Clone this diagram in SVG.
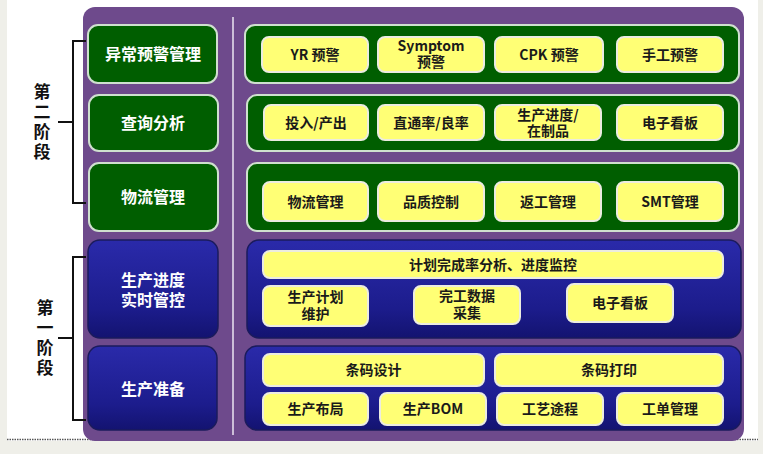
<svg xmlns="http://www.w3.org/2000/svg" width="763" height="454" viewBox="0 0 763 454">
<style>
.t{font-family:"Noto Sans CJK SC","Noto Sans",sans-serif;font-weight:bold;text-anchor:middle}
.lw{fill:#ffffff;font-size:16px}
.yk{fill:#1a1a1a;font-size:14px}
.st{fill:#111111;font-size:17px;writing-mode:vertical-rl;letter-spacing:3px}
.gl{fill:#005e00;stroke:#cfe0cf;stroke-width:2}
.gr{fill:#005e00;stroke:#cfe0cf;stroke-width:2}
.bl{fill:url(#bg);stroke:#1b1b5c;stroke-width:1.5}
.y{fill:#ffff75;stroke:#ecece0;stroke-width:2}
.br{fill:none;stroke:#111;stroke-width:2}
</style>
<defs>
<linearGradient id="bg" x1="0" y1="0" x2="0" y2="1">
<stop offset="0" stop-color="#2a2aaa"/>
<stop offset="0.7" stop-color="#1c1c8c"/>
<stop offset="1" stop-color="#131370"/>
</linearGradient>
</defs>
<rect x="0" y="0" width="763" height="454" fill="#efefe9"/>
<rect x="7" y="0" width="751" height="441" fill="#ffffff"/>
<line x1="7" y1="439.5" x2="758" y2="439.5" stroke="#555" stroke-width="1.5" stroke-dasharray="1.5,1"/>
<rect id="panel" x="83" y="7" width="661" height="434" rx="12" fill="#6e4a8c"/>
<line x1="233" y1="17" x2="233" y2="435" stroke="#ece6f2" stroke-width="1.5"/>

<g id="stage2">
<path class="br" d="M86,41 H73 V203 H86 M73,122 H58"/>
<text class="t st" x="42" y="123">第二阶段</text>
</g>
<g id="stage1">
<path class="br" d="M86,257 H73 V420 H86 M73,338 H58"/>
<text class="t st" x="45" y="339">第一阶段</text>
</g>

<g id="n-yichang"><rect class="gl" x="88" y="25" width="129" height="58" rx="10"/><text class="t lw" x="153" y="60">异常预警管理</text></g>
<g id="n-chaxun"><rect class="gl" x="89" y="95" width="129" height="56" rx="10"/><text class="t lw" x="153" y="129">查询分析</text></g>
<g id="n-wuliu"><rect class="gl" x="89" y="163" width="129" height="68" rx="10"/><text class="t lw" x="153" y="203">物流管理</text></g>
<g id="n-jindu"><rect class="bl" x="88" y="240" width="130" height="98" rx="12"/><text class="t lw"><tspan x="153" y="286">生产进度</tspan><tspan x="153" y="306">实时管控</tspan></text></g>
<g id="n-zhunbei"><rect class="bl" x="88" y="346" width="129" height="84" rx="12"/><text class="t lw" x="153" y="395">生产准备</text></g>

<g id="row1">
<rect class="gr" x="245" y="25" width="494" height="58" rx="10"/>
<g id="n-yr"><rect class="y" x="262" y="37" width="106" height="35" rx="7"/><text class="t yk" x="315" y="59.5">YR 预警</text></g>
<g id="n-symptom"><rect class="y" x="378" y="37" width="106" height="35" rx="7"/><text class="t yk"><tspan x="431" y="51">Symptom</tspan><tspan x="431" y="67">预警</tspan></text></g>
<g id="n-cpk"><rect class="y" x="495" y="37" width="108" height="35" rx="7"/><text class="t yk" x="549" y="59.5">CPK 预警</text></g>
<g id="n-shougong"><rect class="y" x="617" y="37" width="106" height="35" rx="7"/><text class="t yk" x="670" y="59.5">手工预警</text></g>
</g>

<g id="row2">
<rect class="gr" x="247" y="95" width="492" height="56" rx="10"/>
<g id="n-touru"><rect class="y" x="264" y="105" width="104" height="35" rx="7"/><text class="t yk" x="316" y="127.5">投入/产出</text></g>
<g id="n-zhitong"><rect class="y" x="378" y="105" width="106" height="35" rx="7"/><text class="t yk" x="431" y="127.5">直通率/良率</text></g>
<g id="n-zaizhi"><rect class="y" x="495" y="105" width="106" height="35" rx="7"/><text class="t yk"><tspan x="548" y="120">生产进度/</tspan><tspan x="548" y="136">在制品</tspan></text></g>
<g id="n-kanban1"><rect class="y" x="617" y="105" width="106" height="35" rx="7"/><text class="t yk" x="670" y="127.5">电子看板</text></g>
</g>

<g id="row3">
<rect class="gr" x="247" y="163" width="492" height="68" rx="10"/>
<g id="n-wuliu2"><rect class="y" x="263" y="182" width="105" height="39" rx="7"/><text class="t yk" x="315.5" y="206.5">物流管理</text></g>
<g id="n-pinzhi"><rect class="y" x="378" y="182" width="106" height="39" rx="7"/><text class="t yk" x="431" y="206.5">品质控制</text></g>
<g id="n-fangong"><rect class="y" x="495" y="182" width="106" height="39" rx="7"/><text class="t yk" x="548" y="206.5">返工管理</text></g>
<g id="n-smt"><rect class="y" x="617" y="182" width="106" height="39" rx="7"/><text class="t yk" x="670" y="206.5">SMT管理</text></g>
</g>

<g id="row4">
<rect class="bl" x="247" y="240" width="494" height="98" rx="12"/>
<g id="n-jihua"><rect class="y" x="263" y="251" width="460" height="27" rx="7"/><text class="t yk" x="493" y="269.5">计划完成率分析、进度监控</text></g>
<g id="n-weihu"><rect class="y" x="263" y="286" width="105" height="40" rx="7"/><text class="t yk"><tspan x="315.5" y="302">生产计划</tspan><tspan x="315.5" y="319">维护</tspan></text></g>
<g id="n-wangong"><rect class="y" x="414" y="286" width="106" height="38" rx="7"/><text class="t yk"><tspan x="467" y="301">完工数据</tspan><tspan x="467" y="318">采集</tspan></text></g>
<g id="n-kanban2"><rect class="y" x="567" y="284" width="106" height="38" rx="7"/><text class="t yk" x="620" y="308">电子看板</text></g>
</g>

<g id="row5">
<rect class="bl" x="245" y="346" width="496" height="84" rx="12"/>
<g id="n-tmsj"><rect class="y" x="263" y="354" width="221" height="32" rx="7"/><text class="t yk" x="373.5" y="375">条码设计</text></g>
<g id="n-tmdy"><rect class="y" x="495" y="354" width="228" height="32" rx="7"/><text class="t yk" x="609" y="375">条码打印</text></g>
<g id="n-buju"><rect class="y" x="263" y="393" width="105" height="32" rx="7"/><text class="t yk" x="315.5" y="414">生产布局</text></g>
<g id="n-bom"><rect class="y" x="380" y="393" width="106" height="32" rx="7"/><text class="t yk" x="433" y="414">生产BOM</text></g>
<g id="n-gongyi"><rect class="y" x="497" y="393" width="106" height="32" rx="7"/><text class="t yk" x="550" y="414">工艺途程</text></g>
<g id="n-gongdan"><rect class="y" x="617" y="393" width="106" height="32" rx="7"/><text class="t yk" x="670" y="414">工单管理</text></g>
</g>
</svg>
